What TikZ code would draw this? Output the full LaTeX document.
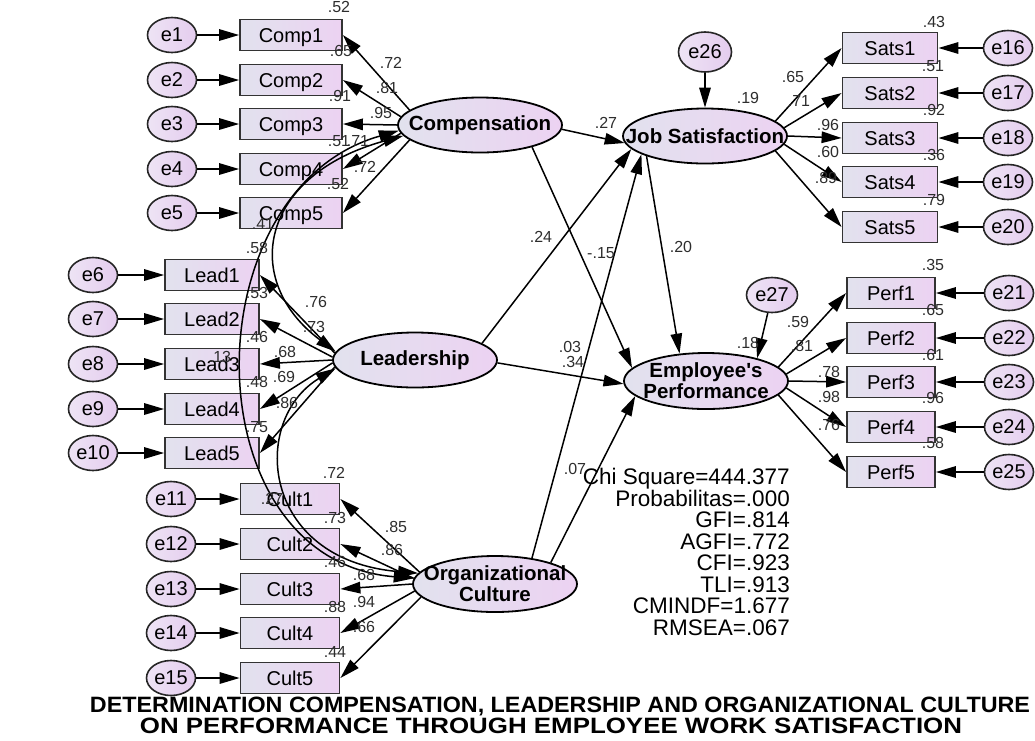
\documentclass[tikz,border=0pt]{standalone}
\usepackage{fontspec}
\usepackage{graphicx}
\setmainfont{Liberation Sans}
\usetikzlibrary{arrows.meta,shapes.geometric}
\definecolor{lgray}{RGB}{226,226,238}
\definecolor{lpurp}{RGB}{236,210,242}
\definecolor{epurpL}{RGB}{238,228,245}
\definecolor{epurpR}{RGB}{228,204,238}
\definecolor{numc}{RGB}{45,45,45}
\begin{document}
\begin{tikzpicture}[x=1pt,y=-1pt,
  >={Triangle[length=20pt,width=11.5pt]},
  obs/.style={draw=black!80, line width=1.8pt, left color=lgray, right color=lpurp,
    minimum height=31pt, inner sep=0pt, text height=14.5pt, text depth=0pt,
    font=\fontsize{20}{20}\selectfont},
  err/.style={ellipse, draw=black!85, line width=1.6pt, left color=epurpL, right color=epurpR,
    minimum width=49pt, minimum height=35pt, inner sep=0pt, font=\fontsize{20}{20}\selectfont},
  lat/.style={ellipse, draw=black, line width=1.8pt, left color=lgray, right color=lpurp,
    minimum width=164pt, minimum height=55pt, inner sep=0pt},
  latlab/.style={font=\fontsize{20.5}{21}\selectfont\bfseries, align=center, inner sep=0pt},
  con/.style={->, line width=1.5pt},
  cov/.style={<->, line width=1.5pt},
  num/.style={font=\fontsize{16}{16}\selectfont, text=numc, inner sep=0pt},
  stat/.style={font=\fontsize{22.5}{22.5}\selectfont, anchor=base east, inner sep=0pt},
  ttl/.style={font=\fontsize{22}{22}\selectfont\bfseries, inner sep=0pt, anchor=base},
]
\useasboundingbox (0,0) rectangle (1035,740);

% ---------- latent variables ----------
\node[lat, label={[latlab]center:Compensation}] (comp) at (480,125) {};
\node[lat, label={[latlab]center:Leadership}] (lead) at (415,360) {};
\node[lat, minimum height=56pt, label={[latlab]center:Organizational\\Culture}] (cult) at (495,584) {};
\node[lat, label={[latlab]center:Job Satisfaction}] (js) at (705,136) {};
\node[lat, minimum height=56pt, label={[latlab]center:Employee\textquotesingle s\\Performance}] (perf) at (706,381) {};

% ---------- indicators and errors ----------
\foreach \i/\y in {1/35,2/80,3/124,4/169,5/213}{
  \node[obs, minimum width=102pt] (c\i) at (291,\y) {Comp\i};
  \node[err] (e\i) at (172,\y) {e\i};
  \draw[con] (e\i) -- (c\i);
}
\foreach \i/\y [evaluate=\i as \k using int(\i+5)] in {1/275,2/319,3/364,4/409,5/453}{
  \node[obs, minimum width=94pt] (l\i) at (212,\y) {Lead\i};
  \node[err] (e\k) at (93,\y) {e\k};
  \draw[con] (e\k) -- (l\i);
}
\foreach \i/\y [evaluate=\i as \k using int(\i+10)] in {1/499,2/544,3/589,4/633,5/678}{
  \node[obs, minimum width=99pt] (u\i) at (290,\y) {Cult\i};
  \node[err] (e\k) at (171,\y) {e\k};
  \draw[con] (e\k) -- (u\i);
}
\foreach \i/\y [evaluate=\i as \k using int(\i+15)] in {1/48,2/93,3/138,4/182,5/227}{
  \node[obs, minimum width=95pt] (s\i) at (890,\y) {Sats\i};
  \node[err] (e\k) at (1008,\y) {e\k};
  \draw[con] (e\k) -- (s\i);
}
\foreach \i/\y [evaluate=\i as \k using int(\i+20)] in {1/293,2/338,3/382,4/427,5/472}{
  \node[obs, minimum width=88pt] (p\i) at (891,\y) {Perf\i};
  \node[err] (e\k) at (1009,\y) {e\k};
  \draw[con] (e\k) -- (p\i);
}
\node[err, minimum width=53pt, minimum height=40pt] (e26) at (705,52) {e26};
\node[err, minimum width=51pt] (e27) at (772,295) {e27};

% ---------- measurement arrows ----------
\foreach \a/\n in {168/c1,174/c2,180/c3,186/c4,192/c5} \draw[con] (comp.\a) -- (\n.east);
\foreach \a/\n in {175/l1,178/l2,180/l3,182/l4,185/l5} \draw[con] (lead.\a) -- (\n.east);
\foreach \a/\n in {171/u1,176/u2,180/u3,185/u4,190/u5} \draw[con] (cult.\a) -- (\n.east);
\foreach \a/\n in {12/s1,6/s2,0/s3,354/s4,348/s5} \draw[con] (js.\a) -- (\n.west);
\foreach \a/\n in {11/p1,5/p2,0/p3,355/p4,349/p5} \draw[con] (perf.\a) -- (\n.west);

% ---------- structural arrows ----------
\draw[con] (comp.357) -- (js.185);
\draw[con] (comp.337) -- (perf.170);
\draw[con] (lead.14) -- (js.190);
\draw[con] (lead.358) -- (perf.182);
\draw[con] (cult.35) -- (js.196);
\draw[con] (cult.21) -- (perf.192);
\draw[con] (js.199) -- (perf.134);
\draw[con] (e26) -- (js);
\draw[con] (e27) -- (perf.24);

% ---------- covariances ----------
\draw[cov] (comp.188) .. controls (260,175) and (240,280) .. (lead.174);
\draw[cov] (comp.184) .. controls (190,190) and (190,560) .. (cult.176);
\draw[cov] (lead.186) .. controls (250,420) and (260,560) .. (cult.172);

% ---------- estimates ----------
\foreach \t/\x/\y [count=\n] in {
 .52/339/7, .65/341/51, .91/340/96, .51/339/141, .71/358/141, .52/338/184, .72/365/167,
 .72/391/63, .81/387/88, .95/381/113, .41/263/224, .58/257/248,
 .53/257/293, .76/316/302, .73/314/327, .46/257/337, .68/285/352, .13/220/357,
 .48/257/382, .69/284/377, .86/287/403, .75/257/427, .72/334/473,
 .27/272/499, .73/335/518, .85/396/527, .86/392/550, .46/335/562, .68/364/575,
 .88/335/607, .94/364/602, .66/364/627, .44/335/652,
 .43/934/22, .65/793/77, .19/748/98, .51/933/66, .71/799/101, .27/606/123,
 .96/828/125, .92/934/110, .60/828/152, .36/934/155, .89/826/178, .79/934/200,
 .24/541/237, {-.15}/601/253, .20/681/247, .35/933/265,
 .59/798/322, .65/933/310, .18/748/343, .81/802/346, .61/933/355, .78/829/372,
 .98/829/397, .96/933/398, .76/829/425, .58/933/443, .03/570/347, .34/573/362, .07/575/469}
 \node[num] (v\n) at (\x,\y) {\t};

% ---------- fit statistics ----------
\node[stat] (st1) at (790,484) {Chi Square=444.377};
\node[stat] (st2) at (790,506) {Probabilitas=.000};
\node[stat] (st3) at (790,527) {GFI=.814};
\node[stat] (st4) at (790,549) {AGFI=.772};
\node[stat] (st5) at (790,570) {CFI=.923};
\node[stat] (st6) at (790,592) {TLI=.913};
\node[stat] (st7) at (790,613) {CMINDF=1.677};
\node[stat] (st8) at (790,635) {RMSEA=.067};

% ---------- title ----------
\node[ttl] (t1) at (560,712) {\resizebox{940pt}{15.5pt}{DETERMINATION COMPENSATION, LEADERSHIP AND ORGANIZATIONAL CULTURE}};
\node[ttl] (t2) at (551,733) {\resizebox{822pt}{15.5pt}{ON PERFORMANCE THROUGH EMPLOYEE WORK SATISFACTION}};
\end{tikzpicture}
\end{document}
